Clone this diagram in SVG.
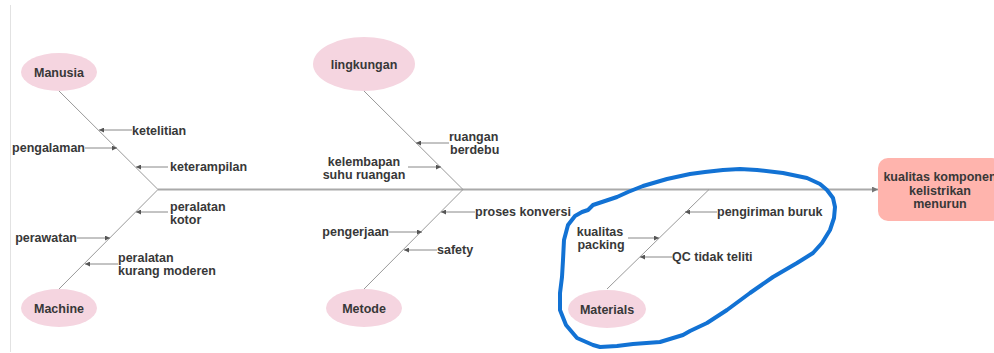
<svg xmlns="http://www.w3.org/2000/svg" width="994" height="353" viewBox="0 0 994 353">
<defs>
<marker id="ah" viewBox="0 0 6 6" refX="6" refY="3" markerWidth="5" markerHeight="5" markerUnits="userSpaceOnUse" orient="auto"><path d="M0,0 L6,3 L0,6 z" fill="#555"/></marker>
<marker id="ahm" viewBox="0 0 6 6" refX="6" refY="3" markerWidth="6" markerHeight="6" markerUnits="userSpaceOnUse" orient="auto"><path d="M0,0 L6,3 L0,6 z" fill="#777"/></marker>
<style>
text{font-family:"Liberation Sans",Arial,sans-serif;font-size:12.5px;font-weight:bold;fill:#383838}
.cat{fill:#f5d5e0}
.bone{stroke:#999;stroke-width:1;fill:none}
.sub{stroke:#888;stroke-width:1;fill:none;marker-end:url(#ah)}
.m{text-anchor:middle}
.e{text-anchor:end}
</style>
</defs>
<rect width="994" height="353" fill="#fff"/>
<line x1="10.5" y1="5" x2="10.5" y2="352" stroke="#e2e2e2" stroke-width="1"/>

<g id="connectors">
<line x1="158" y1="189.5" x2="878" y2="189.5" stroke="#aaa" stroke-width="2" marker-end="url(#ahm)"/>
<line class="bone" x1="59" y1="91" x2="158" y2="189.5"/>
<line class="bone" x1="59" y1="289" x2="158" y2="189.5"/>
<line class="bone" x1="364" y1="91" x2="463" y2="189.5"/>
<line class="bone" x1="364" y1="289" x2="463" y2="189.5"/>
<line class="bone" x1="607" y1="289" x2="709" y2="189.5"/>
<line class="sub" x1="132" y1="130" x2="99" y2="130"/>
<line class="sub" x1="85" y1="148" x2="117" y2="148"/>
<line class="sub" x1="168" y1="167" x2="136" y2="167"/>
<line class="sub" x1="168" y1="212" x2="136" y2="212"/>
<line class="sub" x1="77" y1="238" x2="110" y2="238"/>
<line class="sub" x1="118" y1="264" x2="85" y2="264"/>
<line class="sub" x1="449" y1="143" x2="416" y2="143"/>
<line class="sub" x1="408" y1="167" x2="441" y2="167"/>
<line class="sub" x1="475" y1="212" x2="441" y2="212"/>
<line class="sub" x1="389" y1="232" x2="422" y2="232"/>
<line class="sub" x1="437" y1="250" x2="404" y2="250"/>
<line class="sub" x1="717" y1="212" x2="685" y2="212"/>
<line class="sub" x1="628" y1="238" x2="659" y2="238"/>
<line class="sub" x1="672" y1="257" x2="640" y2="257"/>
</g>

<g id="manusia"><ellipse class="cat" cx="59" cy="72" rx="38" ry="19"/><text class="m" x="59" y="76.5">Manusia</text></g>
<g id="machine"><ellipse class="cat" cx="59" cy="308" rx="38" ry="19"/><text class="m" x="59" y="312.5">Machine</text></g>
<g id="lingkungan"><ellipse class="cat" cx="364" cy="64" rx="51" ry="27"/><text class="m" x="364" y="68.5">lingkungan</text></g>
<g id="metode"><ellipse class="cat" cx="364" cy="308" rx="38" ry="19"/><text class="m" x="364" y="312.5">Metode</text></g>
<g id="materials"><ellipse class="cat" cx="607" cy="309" rx="39" ry="19"/><text class="m" x="607" y="313.5">Materials</text></g>

<g id="effect"><rect x="878" y="158" width="124" height="63" rx="10" fill="#ffb4ad"/>
<text class="m" x="940" y="181">kualitas komponen</text>
<text class="m" x="940" y="194.5">kelistrikan</text>
<text class="m" x="940" y="208">menurun</text></g>

<g id="causes">
<text x="132" y="134.5">ketelitian</text>
<text class="e" x="85" y="152">pengalaman</text>
<text x="170" y="171">keterampilan</text>
<text x="170" y="211">peralatan</text>
<text x="170" y="224">kotor</text>
<text class="e" x="77" y="242">perawatan</text>
<text x="118" y="262">peralatan</text>
<text x="118" y="275">kurang moderen</text>
<text x="449" y="141">ruangan</text>
<text x="450" y="154">berdebu</text>
<text class="m" x="364" y="166">kelembapan</text>
<text class="m" x="364" y="179">suhu ruangan</text>
<text x="475" y="216">proses konversi</text>
<text class="e" x="389" y="236">pengerjaan</text>
<text x="437" y="254">safety</text>
<text x="717" y="216">pengiriman buruk</text>
<text class="m" x="600" y="236">kualitas</text>
<text class="m" x="601" y="249">packing</text>
<text x="672" y="261">QC tidak teliti</text>
</g>

<path d="M588,210 L593,205 L605,201 L617,197 L628,192 L643,186 L667,179 L690,174 L705,172 L723,170 L740,169 L757,170 L783,173 L807,178 L820,184 L827,190 L833,198 L835,207 L834,218 L830,230 L822,243 L813,253 L797,263 L773,277 L750,293 L727,310 L707,323 L690,331 L683,335 L660,342 L633,344 L617,346 L600,347 L593,345 L577,338 L566,325 L560,310 L560,293 L562,277 L563,260 L564,240 L568,225 L575,216 L582,212 Z" fill="none" stroke="#1272d4" stroke-width="4" stroke-linejoin="round" stroke-linecap="round"/>
</svg>
